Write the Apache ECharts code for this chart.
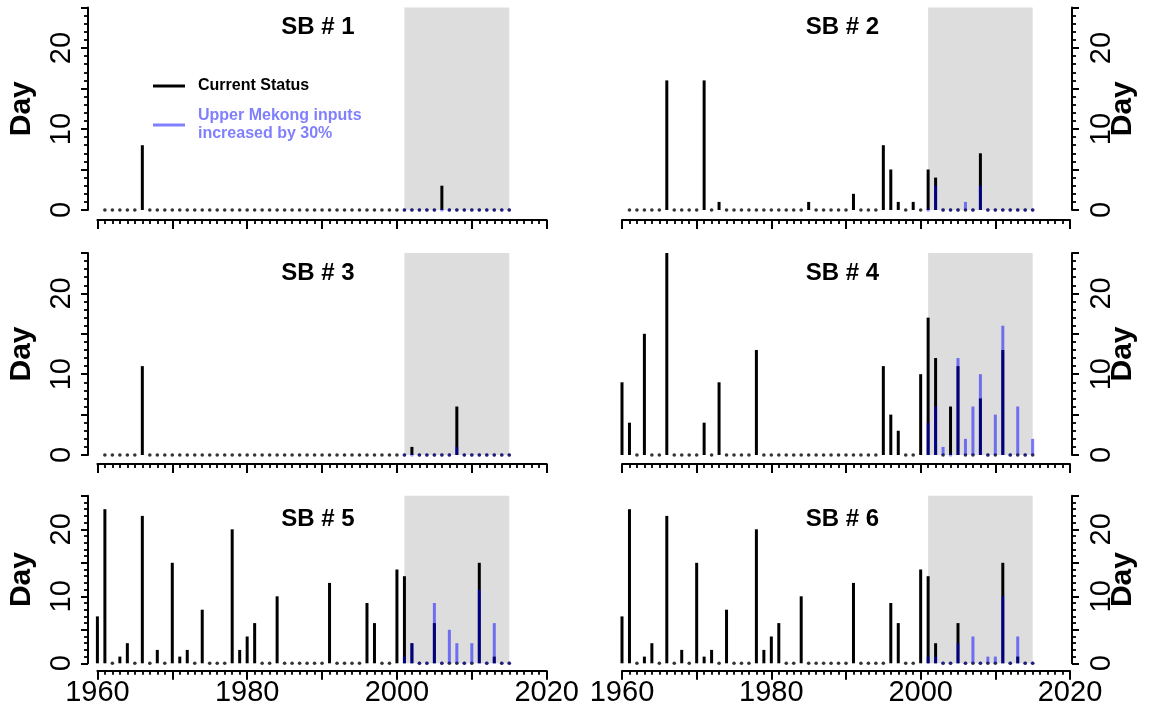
<!DOCTYPE html>
<html>
<head>
<meta charset="utf-8">
<script src="https://cdn.jsdelivr.net/npm/echarts@6/dist/echarts.min.js"></script>
<style>
html,body{margin:0;padding:0;background:#fff;}
#chart{width:1152px;height:717px;}
</style>
</head>
<body>
<div id="chart"></div>
<script>
// ---------- DATA ----------
const years = [1960,1961,1962,1963,1964,1965,1966,1967,1968,1969,
               1970,1971,1972,1973,1974,1975,1976,1977,1978,1979,
               1980,1981,1982,1983,1984,1985,1986,1987,1988,1989,
               1990,1991,1992,1993,1994,1995,1996,1997,1998,1999,
               2000,2001,2002,2003,2004,2005,2006,2007,2008,2009,
               2010,2011,2012,2013,2014,2015];
const upperYears = [2001,2002,2003,2004,2005,2006,2007,2008,2009,2010,2011,2012,2013,2014,2015];

const panelTitles = ['SB # 1','SB # 2','SB # 3','SB # 4','SB # 5','SB # 6'];
const currentName = 'Current Status';
const upperName = 'Upper Mekong inputs\nincreased by 30%';
const xTickLabels = [1960, 1980, 2000, 2020];
const yTickLabels = [0, 10, 20];
const shadeYears = [2001, 2015];

// Current status (days per year, 1960..2015; null = no value)
const sb1Current = [null,0,0,0,0,0,8,0,0,0, 0,0,0,0,0,0,0,0,0,0, 0,0,0,0,0,0,0,0,0,0,
                    0,0,0,0,0,0,0,0,0,0, 0,0,0,0,0,0,3,0,0,0, 0,0,0,0,0,0];
const sb2Current = [null,0,0,0,0,0,16,0,0,0, 0,16,0,1,0,0,0,0,0,0, 0,0,0,0,0,1,0,0,0,0,
                    0,2,0,0,0,8,5,1,0,1, 0,5,4,0,0,0,0,0,7,0, 0,0,0,0,0,0];
const sb3Current = [null,0,0,0,0,0,11,0,0,0, 0,0,0,0,0,0,0,0,0,0, 0,0,0,0,0,0,0,0,0,0,
                    0,0,0,0,0,0,0,0,0,0, 0,0,1,0,0,0,0,0,6,0, 0,0,0,0,0,0];
const sb4Current = [9,4,0,15,0,0,25,0,0,0, 0,4,0,9,0,0,0,0,13,0, 0,0,0,0,0,0,0,0,0,0,
                    0,0,0,0,0,11,5,3,0,0, 10,17,12,0,6,11,0,0,7,0, 0,13,0,0,0,0];
const sb5Current = [7,23,0,1,3,0,22,0,2,0, 15,1,2,0,8,0,0,0,20,2, 4,6,0,0,10,0,0,0,0,0,
                    0,12,0,0,0,0,9,6,0,0, 14,13,3,0,0,6,0,0,0,0, 0,15,0,1,0,0];
const sb6Current = [7,23,0,1,3,0,22,0,2,0, 15,1,2,0,8,0,0,0,20,2, 4,6,0,0,10,0,0,0,0,0,
                    0,12,0,0,0,0,9,6,0,0, 14,13,3,0,0,6,0,0,0,0, 0,15,0,1,0,0];

// Upper Mekong inputs increased by 30% (2001..2015)
const sb1Upper = [0,0,0,0,0,0,0,0,0,0,0,0,0,0,0];
const sb2Upper = [0,3,0,0,0,1,0,3,0,0,0,0,0,0,0];
const sb3Upper = [0,0,0,0,0,0,0,1,0,0,0,0,0,0,0];
const sb4Upper = [4,6,1,0,12,2,6,10,0,5,16,0,6,0,2];
const sb5Upper = [1,3,0,0,9,0,5,3,0,3,11,0,6,0,0];
const sb6Upper = [1,1,0,0,3,0,4,0,1,1,10,0,4,0,0];

const currentAll = [sb1Current, sb2Current, sb3Current, sb4Current, sb5Current, sb6Current];
const upperAll = [sb1Upper, sb2Upper, sb3Upper, sb4Upper, sb5Upper, sb6Upper];

// ---------- LAYOUT / STYLE ----------
const FONT = '"Liberation Sans", Arial, Helvetica, sans-serif';
const BLACK = '#000000';
const BLUE = 'rgba(0,0,255,0.5)';
const colLeft = [97.4, 622];
const colWidth = [449.3, 448];
const colYOffset = [9.4, 2];
const rowTop = [7.5, 253, 495.8];
const rowHeight = [202.5, 202, 167.5];
const rowXOffset = [10, 9, 7.4];
const titleX = [318, 842.5];
const titleY = [27.5, 273, 519];

const grids = [], xAxes = [], yAxes = [], series = [], graphics = [];

for (let p = 0; p < 6; p++) {
  const row = Math.floor(p / 2), col = p % 2;
  grids.push({left: colLeft[col], top: rowTop[row], width: colWidth[col], height: rowHeight[row], containLabel: false});
  const bottom = row === 2;
  xAxes.push({
    type: 'value', gridIndex: p, min: 1960, max: 2020, interval: 10,
    position: 'bottom', offset: rowXOffset[row],
    axisLine: {show: true, onZero: false, lineStyle: {color: BLACK, width: 2}},
    axisTick: {show: true, length: 9, lineStyle: {color: BLACK, width: 2}},
    minorTick: {show: true, splitNumber: 10, length: 4, lineStyle: {color: BLACK, width: 1.8}},
    splitLine: {show: false}, minorSplitLine: {show: false},
    axisLabel: {
      show: bottom, margin: 8, fontSize: 29, color: BLACK, fontFamily: FONT,
      formatter: v => xTickLabels.indexOf(v) >= 0 ? String(v) : ''
    }
  });
  yAxes.push({
    type: 'value', gridIndex: p, min: 0, max: 25, interval: 5,
    position: col === 0 ? 'left' : 'right', offset: colYOffset[col],
    name: 'Day', nameLocation: 'middle', nameRotate: 90, nameGap: col === 0 ? 51 : 36,
    nameMoveOverlap: false,
    nameTextStyle: {fontSize: 30, fontWeight: 'bold', color: BLACK, fontFamily: FONT},
    axisLine: {show: true, onZero: false, lineStyle: {color: BLACK, width: 2}},
    axisTick: {show: true, length: 7, lineStyle: {color: BLACK, width: 2}},
    minorTick: {show: true, splitNumber: 5, length: 4, lineStyle: {color: BLACK, width: 1.8}},
    splitLine: {show: false}, minorSplitLine: {show: false},
    axisLabel: {
      show: true, rotate: 90, margin: col === 0 ? 12 : 15, fontSize: 29, color: BLACK, fontFamily: FONT,
      formatter: v => yTickLabels.indexOf(v) >= 0 ? String(v) : ''
    }
  });

  const cur = currentAll[p], up = upperAll[p];
  const curBars = [], curDots = [], upBars = [], upDots = [];
  years.forEach((y, k) => {
    const v = cur[k];
    if (v === null || v === undefined) return;
    if (v > 0) curBars.push([y, v]); else curDots.push([y, 0]);
  });
  upperYears.forEach((y, k) => {
    const v = up[k];
    if (v > 0) upBars.push([y, v]); else upDots.push([y, 0]);
  });

  series.push({
    name: currentName, type: 'bar', xAxisIndex: p, yAxisIndex: p,
    data: curBars, barWidth: 3, barGap: '-100%', z: 2,
    itemStyle: {color: BLACK}, silent: true, animation: false,
    markArea: {
      silent: true, z: 1,
      itemStyle: {color: '#dddddd'},
      data: [[{xAxis: shadeYears[0], yAxis: 0}, {xAxis: shadeYears[1], yAxis: 25}]]
    }
  });
  series.push({
    name: upperName, type: 'bar', xAxisIndex: p, yAxisIndex: p,
    data: upBars, barWidth: 3, barGap: '-100%', z: 3,
    itemStyle: {color: BLUE}, silent: true, animation: false
  });
  series.push({
    name: currentName, type: 'scatter', xAxisIndex: p, yAxisIndex: p,
    data: curDots, symbol: 'circle', symbolSize: 3.6, z: 2,
    itemStyle: {color: BLACK}, silent: true, animation: false
  });
  series.push({
    name: upperName, type: 'scatter', xAxisIndex: p, yAxisIndex: p,
    data: upDots, symbol: 'circle', symbolSize: 3.6, z: 4,
    itemStyle: {color: BLUE}, silent: true, animation: false
  });

  graphics.push({
    type: 'text', x: titleX[col], y: titleY[row], z: 10,
    style: {text: panelTitles[p], fill: BLACK, font: 'bold 24px ' + FONT, textAlign: 'center', textVerticalAlign: 'middle'}
  });
}

const chart = echarts.init(document.getElementById('chart'), null, {renderer: 'canvas'});
chart.setOption({
  backgroundColor: '#ffffff',
  animation: false,
  grid: grids,
  xAxis: xAxes,
  yAxis: yAxes,
  series: series,
  graphic: graphics,
  legend: {
    show: true, orient: 'vertical', left: 148, top: 72, itemGap: 12,
    itemWidth: 32, itemHeight: 3, selectedMode: false,
    textStyle: {fontSize: 16, fontWeight: 'bold', fontFamily: FONT, lineHeight: 18, padding: [0, 0, 0, 8]},
    data: [
      {name: currentName, icon: 'rect', itemStyle: {color: BLACK}, textStyle: {color: BLACK}},
      {name: upperName, icon: 'rect', itemStyle: {color: BLUE}, textStyle: {color: '#8080ff'}}
    ]
  }
});
</script>
</body>
</html>
